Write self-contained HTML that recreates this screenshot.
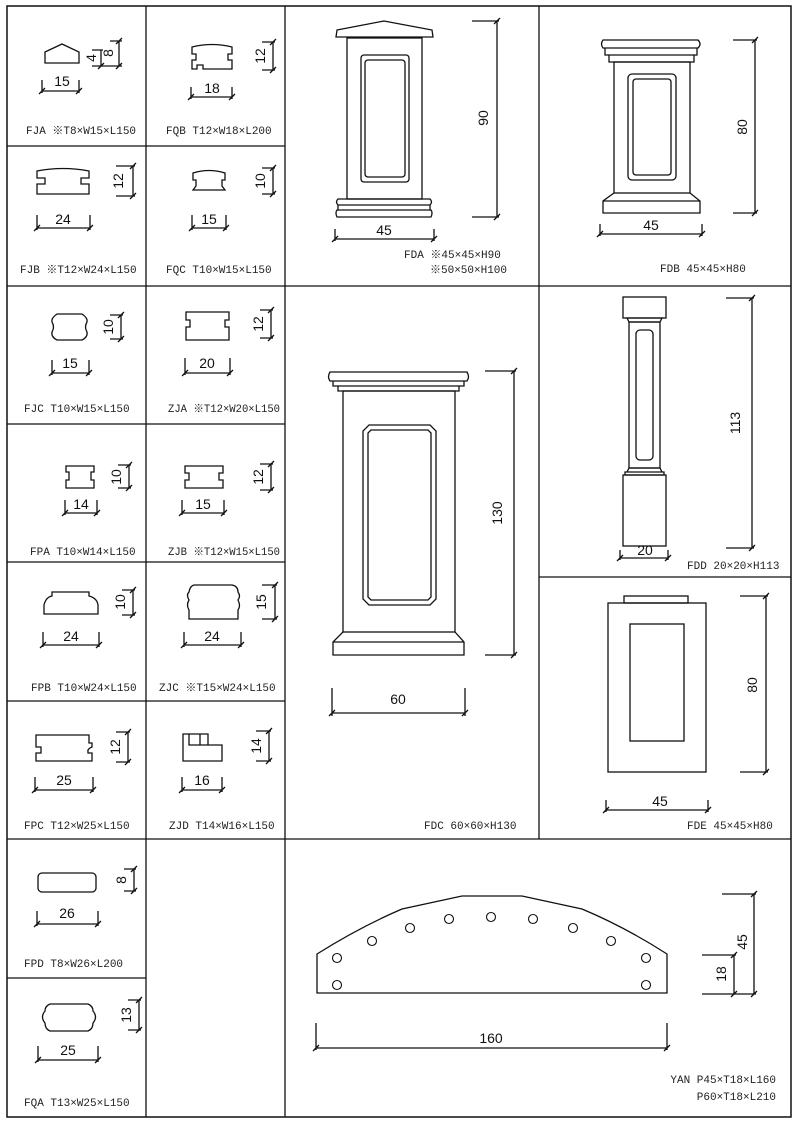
<!DOCTYPE html>
<html><head><meta charset="utf-8"><style>
html,body{margin:0;padding:0;background:#fff}
svg{display:block}
.l{font-family:"Liberation Mono","Noto Sans CJK SC",monospace;font-size:11px;fill:#222}
.d{font-family:"Liberation Sans",sans-serif;font-size:14px;fill:#111}
</style></head><body>
<svg width="800" height="1126" viewBox="0 0 800 1126" xmlns="http://www.w3.org/2000/svg" fill="none" stroke="#111" stroke-width="1.3">
<rect x="7" y="6" width="784" height="1111" stroke-width="1.5"/>
<line x1="146" y1="6" x2="146" y2="1117"/>
<line x1="285" y1="6" x2="285" y2="1117"/>
<line x1="539" y1="6" x2="539" y2="839"/>
<line x1="7" y1="146" x2="285" y2="146"/>
<line x1="7" y1="286" x2="791" y2="286"/>
<line x1="7" y1="424" x2="285" y2="424"/>
<line x1="7" y1="562" x2="285" y2="562"/>
<line x1="7" y1="701" x2="285" y2="701"/>
<line x1="7" y1="839" x2="791" y2="839"/>
<line x1="7" y1="978" x2="146" y2="978"/>
<line x1="539" y1="577" x2="791" y2="577"/>

<path d="M45 52 L62 44 L79 52 L79 63 L45 63 Z"/>
<path d="M42 91 H79 M42 80 V93 M79 80 V93 M39 94 L45 88 M76 94 L82 88"/>
<text class="d" x="62" y="86" text-anchor="middle" stroke="none">15</text>
<path d="M101 50 V66 M119 41 V66 M92 50 H103 M92 66 H122 M110 41 H122 M98 69 L104 63 M116 69 L122 63 M116 44 L122 38"/>
<text class="d" x="96" y="58" text-anchor="middle" transform="rotate(-90 96 58)" stroke="none" font-size="11">4</text>
<text class="d" x="113" y="53" text-anchor="middle" transform="rotate(-90 113 53)" stroke="none">8</text>
<text class="l" x="26" y="134" stroke="none">FJA ※T8×W15×L150</text>

<path d="M192 47 Q212 42 232 47 V54 H228 V60 H232 V69 H203 V65 H197 V69 H192 V60 H196 V54 H192 Z"/>
<path d="M191 97 H232 M191 87 V99 M232 87 V99 M188 100 L194 94 M229 100 L235 94"/>
<text class="d" x="212" y="93" text-anchor="middle" stroke="none">18</text>
<path d="M273 42 V70 M262 42 H275 M262 70 H275 M270 73 L276 67 M270 45 L276 39"/>
<text class="d" x="265" y="56" text-anchor="middle" transform="rotate(-90 265 56)" stroke="none">12</text>
<text class="l" x="166" y="134" stroke="none">FQB T12×W18×L200</text>

<path d="M37 171 Q63 166 89 171 V178 H81 V184 H89 V194 H37 V184 H45 V178 H37 Z"/>
<path d="M37 228 H90 M37 215 V230 M90 215 V230 M34 231 L40 225 M87 231 L93 225"/>
<text class="d" x="63" y="224" text-anchor="middle" stroke="none">24</text>
<path d="M133 166 V196 M116 166 H135 M116 196 H135 M130 199 L136 193 M130 169 L136 163"/>
<text class="d" x="123" y="181" text-anchor="middle" transform="rotate(-90 123 181)" stroke="none">12</text>
<text class="l" x="20" y="273" stroke="none">FJB ※T12×W24×L150</text>

<path d="M193 173 Q209 168 225 173 V180 H222 V186 L225 190 H193 L196 186 V180 H193 Z"/>
<path d="M192 228 H226 M192 215 V230 M226 215 V230 M189 231 L195 225 M223 231 L229 225"/>
<text class="d" x="209" y="224" text-anchor="middle" stroke="none">15</text>
<path d="M273 168 V194 M262 168 H275 M262 194 H275 M270 197 L276 191 M270 171 L276 165"/>
<text class="d" x="265" y="181" text-anchor="middle" transform="rotate(-90 265 181)" stroke="none">10</text>
<text class="l" x="166" y="273" stroke="none">FQC T10×W15×L150</text>

<path d="M57 314 H82 Q88 318 87 322 Q84 327 87 332 Q88 337 82 340 H57 Q51 337 52 332 Q55 327 52 322 Q51 318 57 314 Z"/>
<path d="M52 373 H89 M52 360 V375 M89 360 V375 M49 376 L55 370 M86 376 L92 370"/>
<text class="d" x="70" y="368" text-anchor="middle" stroke="none">15</text>
<path d="M121 315 V339 M110 315 H123 M110 339 H123 M118 342 L124 336 M118 318 L124 312"/>
<text class="d" x="113" y="327" text-anchor="middle" transform="rotate(-90 113 327)" stroke="none">10</text>
<text class="l" x="24" y="412" stroke="none">FJC  T10×W15×L150</text>

<path d="M186 312 H229 V320 H225 V327 H229 V340 H186 V327 H190 V320 H186 Z"/>
<path d="M185 373 H230 M185 358 V375 M230 358 V375 M182 376 L188 370 M227 376 L233 370"/>
<text class="d" x="207" y="368" text-anchor="middle" stroke="none">20</text>
<path d="M271 310 V338 M260 310 H273 M260 338 H273 M268 341 L274 335 M268 313 L274 307"/>
<text class="d" x="263" y="324" text-anchor="middle" transform="rotate(-90 263 324)" stroke="none">12</text>
<text class="l" x="168" y="412" textLength="112" lengthAdjust="spacingAndGlyphs" stroke="none">ZJA ※T12×W20×L150</text>

<path d="M66 466 H94 V472 H91 V480 H94 V488 H66 V480 H69 V472 H66 Z"/>
<path d="M65 513 H97 M65 500 V515 M97 500 V515 M62 516 L68 510 M94 516 L100 510"/>
<text class="d" x="81" y="509" text-anchor="middle" stroke="none">14</text>
<path d="M129 465 V488 M118 465 H131 M118 488 H131 M126 491 L132 485 M126 468 L132 462"/>
<text class="d" x="121" y="477" text-anchor="middle" transform="rotate(-90 121 477)" stroke="none">10</text>
<text class="l" x="30" y="555" stroke="none">FPA T10×W14×L150</text>

<path d="M185 466 H223 V473 H219 V480 H223 V488 H185 V480 H189 V473 H185 Z"/>
<path d="M182 513 H224 M182 500 V515 M224 500 V515 M179 516 L185 510 M221 516 L227 510"/>
<text class="d" x="203" y="509" text-anchor="middle" stroke="none">15</text>
<path d="M271 464 V490 M260 464 H273 M260 490 H273 M268 493 L274 487 M268 467 L274 461"/>
<text class="d" x="263" y="477" text-anchor="middle" transform="rotate(-90 263 477)" stroke="none">12</text>
<text class="l" x="168" y="555" textLength="112" lengthAdjust="spacingAndGlyphs" stroke="none">ZJB ※T12×W15×L150</text>

<path d="M52 592 H89 V596 Q97 598 98 605 V614 H44 V605 Q46 597 52 596 Z"/>
<path d="M43 645 H99 M43 632 V647 M99 632 V647 M40 648 L46 642 M96 648 L102 642"/>
<text class="d" x="71" y="641" text-anchor="middle" stroke="none">24</text>
<path d="M133 590 V615 M122 590 H135 M122 615 H135 M130 618 L136 612 M130 593 L136 587"/>
<text class="d" x="125" y="602" text-anchor="middle" transform="rotate(-90 125 602)" stroke="none">10</text>
<text class="l" x="31" y="691" stroke="none">FPB T10×W24×L150</text>

<path d="M194 585 H232 Q238 586 238 592 Q241 596 238 600 Q241 606 238 610 V619 H189 V610 Q186 605 189 600 Q186 595 189 592 Q190 586 194 585 Z"/>
<path d="M184 645 H241 M184 632 V647 M241 632 V647 M181 648 L187 642 M238 648 L244 642"/>
<text class="d" x="212" y="641" text-anchor="middle" stroke="none">24</text>
<path d="M275 585 V619 M262 585 H277 M262 619 H277 M272 622 L278 616 M272 588 L278 582"/>
<text class="d" x="266" y="602" text-anchor="middle" transform="rotate(-90 266 602)" stroke="none">15</text>
<text class="l" x="159" y="691" stroke="none">ZJC ※T15×W24×L150</text>

<path d="M36 735 H89 V743 H92 V747 Q87 749 88 752 V753 H92 V761 H36 V753 H41 V747 H36 Z"/>
<path d="M35 790 H93 M35 777 V792 M93 777 V792 M32 793 L38 787 M90 793 L96 787"/>
<text class="d" x="64" y="785" text-anchor="middle" stroke="none">25</text>
<path d="M128 732 V762 M116 732 H130 M116 762 H130 M125 765 L131 759 M125 735 L131 729"/>
<text class="d" x="120" y="747" text-anchor="middle" transform="rotate(-90 120 747)" stroke="none">12</text>
<text class="l" x="24" y="829" stroke="none">FPC  T12×W25×L150</text>

<path d="M183 734 H208 V745 H222 V761 H183 Z M189 734 V745 H208 M200 734 V745"/>
<path d="M182 790 H222 M182 777 V792 M222 777 V792 M179 793 L185 787 M219 793 L225 787"/>
<text class="d" x="202" y="785" text-anchor="middle" stroke="none">16</text>
<path d="M269 731 V761 M256 731 H271 M256 761 H271 M266 764 L272 758 M266 734 L272 728"/>
<text class="d" x="261" y="746" text-anchor="middle" transform="rotate(-90 261 746)" stroke="none">14</text>
<text class="l" x="169" y="829" stroke="none">ZJD T14×W16×L150</text>

<rect x="38" y="873" width="58" height="19" rx="4"/>
<path d="M37 924 H98 M37 911 V926 M98 911 V926 M34 927 L40 921 M95 927 L101 921"/>
<text class="d" x="67" y="918" text-anchor="middle" stroke="none">26</text>
<path d="M134 869 V891 M124 869 H136 M124 891 H136 M131 894 L137 888 M131 872 L137 866"/>
<text class="d" x="126" y="880" text-anchor="middle" transform="rotate(-90 126 880)" stroke="none">8</text>
<text class="l" x="24" y="967" stroke="none">FPD  T8×W26×L200</text>

<path d="M50 1004 H88 Q93 1006 93 1011 Q98 1017 93 1023 Q93 1029 88 1031 H50 Q45 1029 45 1023 Q40 1017 45 1011 Q45 1006 50 1004 Z"/>
<path d="M38 1060 H98 M38 1046 V1062 M98 1046 V1062 M35 1063 L41 1057 M95 1063 L101 1057"/>
<text class="d" x="68" y="1055" text-anchor="middle" stroke="none">25</text>
<path d="M139 1000 V1030 M128 1000 H141 M128 1030 H141 M136 1033 L142 1027 M136 1003 L142 997"/>
<text class="d" x="131" y="1015" text-anchor="middle" transform="rotate(-90 131 1015)" stroke="none">13</text>
<text class="l" x="24" y="1106" stroke="none">FQA  T13×W25×L150</text>

<path d="M337 30 L384 21 L432 30 L433 37 L336 37 Z"/>
<rect x="347" y="38" width="75" height="161"/>
<rect x="361" y="55" width="48" height="127" rx="3"/>
<rect x="365" y="60" width="40" height="117" rx="3"/>
<path d="M338 199 H430 Q433 202 430 205 H338 Q335 202 338 199 Z M338 205 H430 V210 H338 Z M337 210 H431 Q433 213 431 217 H337 Q335 213 337 210 Z"/>
<path d="M335 239 H434 M335 229 V241 M434 229 V241 M332 242 L338 236 M431 242 L437 236"/>
<text class="d" x="384" y="235" text-anchor="middle" stroke="none">45</text>
<path d="M497 21 V217 M472 21 H499 M472 217 H499 M494 220 L500 214 M494 24 L500 18"/>
<text class="d" x="488" y="118" text-anchor="middle" transform="rotate(-90 488 118)" stroke="none">90</text>
<text class="l" x="404" y="258" stroke="none">FDA ※45×45×H90</text>
<text class="l" x="430" y="273" stroke="none">※50×50×H100</text>

<path d="M603 40 H698 Q702 44 698 48 H603 Q600 44 603 40 Z M605 48 H697 V55 H605 Z M609 55 H694 V62 H609 Z"/>
<rect x="614" y="62" width="76" height="131"/>
<rect x="628" y="74" width="48" height="106" rx="4"/>
<rect x="633" y="79" width="38" height="96" rx="3"/>
<path d="M614 193 L603 201 V213 H700 V201 L690 193 M603 201 H700"/>
<path d="M600 234 H702 M600 224 V236 M702 224 V236 M597 237 L603 231 M699 237 L705 231"/>
<text class="d" x="651" y="230" text-anchor="middle" stroke="none">45</text>
<path d="M755 40 V213 M733 40 H757 M733 213 H757 M752 216 L758 210 M752 43 L758 37"/>
<text class="d" x="747" y="127" text-anchor="middle" transform="rotate(-90 747 127)" stroke="none">80</text>
<text class="l" x="660" y="272" stroke="none">FDB  45×45×H80</text>

<path d="M330 372 H467 Q470 377 467 381 H330 Q327 377 330 372 Z M333 381 H464 V386 H333 Z M338 386 H459 V391 H338 Z"/>
<rect x="343" y="391" width="112" height="241"/>
<path d="M369 425 H430 L436 431 V599 L430 605 H369 L363 599 V431 Z"/>
<path d="M371 430 H428 L431 433 V597 L428 600 H371 L368 597 V433 Z"/>
<path d="M343 632 L333 642 V655 H464 V642 L455 632 M333 642 H464"/>
<path d="M332 713 H465 M332 688 V716 M465 688 V716 M329 716 L335 710 M462 716 L468 710"/>
<text class="d" x="398" y="704" text-anchor="middle" stroke="none">60</text>
<path d="M514 371 V655 M485 371 H516 M485 655 H516 M511 658 L517 652 M511 374 L517 368"/>
<text class="d" x="502" y="513" text-anchor="middle" transform="rotate(-90 502 513)" stroke="none">130</text>
<text class="l" x="424" y="829" stroke="none">FDC 60×60×H130</text>

<rect x="623" y="297" width="43" height="21"/>
<path d="M627 318 H662 L660 322 H629 Z"/>
<rect x="629" y="322" width="31" height="146"/>
<rect x="636" y="330" width="17" height="130" rx="4"/>
<path d="M629 468 H660 L662 472 H627 Z M625 472 H664 V475 H625 Z"/>
<rect x="623" y="475" width="43" height="71"/>
<path d="M620 558 H668 M620 550 V560 M668 550 V560 M617 561 L623 555 M665 561 L671 555"/>
<text class="d" x="645" y="555" text-anchor="middle" stroke="none">20</text>
<path d="M752 298 V548 M726 298 H754 M726 548 H754 M749 551 L755 545 M749 301 L755 295"/>
<text class="d" x="740" y="423" text-anchor="middle" transform="rotate(-90 740 423)" stroke="none">113</text>
<text class="l" x="687" y="569" stroke="none">FDD 20×20×H113</text>

<rect x="624" y="596" width="64" height="7"/>
<rect x="608" y="603" width="98" height="169"/>
<rect x="630" y="624" width="54" height="117"/>
<path d="M766 596 V772 M740 596 H768 M740 772 H768 M763 775 L769 769 M763 599 L769 593"/>
<text class="d" x="757" y="685" text-anchor="middle" transform="rotate(-90 757 685)" stroke="none">80</text>
<path d="M606 810 H708 M606 800 V812 M708 800 V812 M603 813 L609 807 M705 813 L711 807"/>
<text class="d" x="660" y="806" text-anchor="middle" stroke="none">45</text>
<text class="l" x="687" y="829" stroke="none">FDE 45×45×H80</text>

<path d="M317 954 Q360 927 402 909 L462 896 H522 L582 909 Q625 927 667 954 V993 H317 Z"/>
<g stroke-width="1.1">
<circle cx="337" cy="958" r="4.5"/><circle cx="372" cy="941" r="4.5"/><circle cx="410" cy="928" r="4.5"/>
<circle cx="449" cy="919" r="4.5"/><circle cx="491" cy="917" r="4.5"/><circle cx="533" cy="919" r="4.5"/>
<circle cx="573" cy="928" r="4.5"/><circle cx="611" cy="941" r="4.5"/><circle cx="646" cy="958" r="4.5"/>
<circle cx="337" cy="985" r="4.5"/><circle cx="646" cy="985" r="4.5"/>
</g>
<path d="M316 1048 H667 M316 1023 V1050 M667 1023 V1050 M313 1051 L319 1045 M664 1051 L670 1045"/>
<text class="d" x="491" y="1043" text-anchor="middle" stroke="none">160</text>
<path d="M754 894 V994 M722 894 H756 M702 994 H756 M751 997 L757 991 M751 897 L757 891"/>
<path d="M734 955 V994 M702 955 H736 M731 997 L737 991 M731 958 L737 952"/>
<text class="d" x="747" y="942" text-anchor="middle" transform="rotate(-90 747 942)" stroke="none">45</text>
<text class="d" x="726" y="974" text-anchor="middle" transform="rotate(-90 726 974)" stroke="none">18</text>
<text class="l" x="776" y="1083" text-anchor="end" stroke="none">YAN P45×T18×L160</text>
<text class="l" x="776" y="1100" text-anchor="end" stroke="none">P60×T18×L210</text>
</svg>
</body></html>
